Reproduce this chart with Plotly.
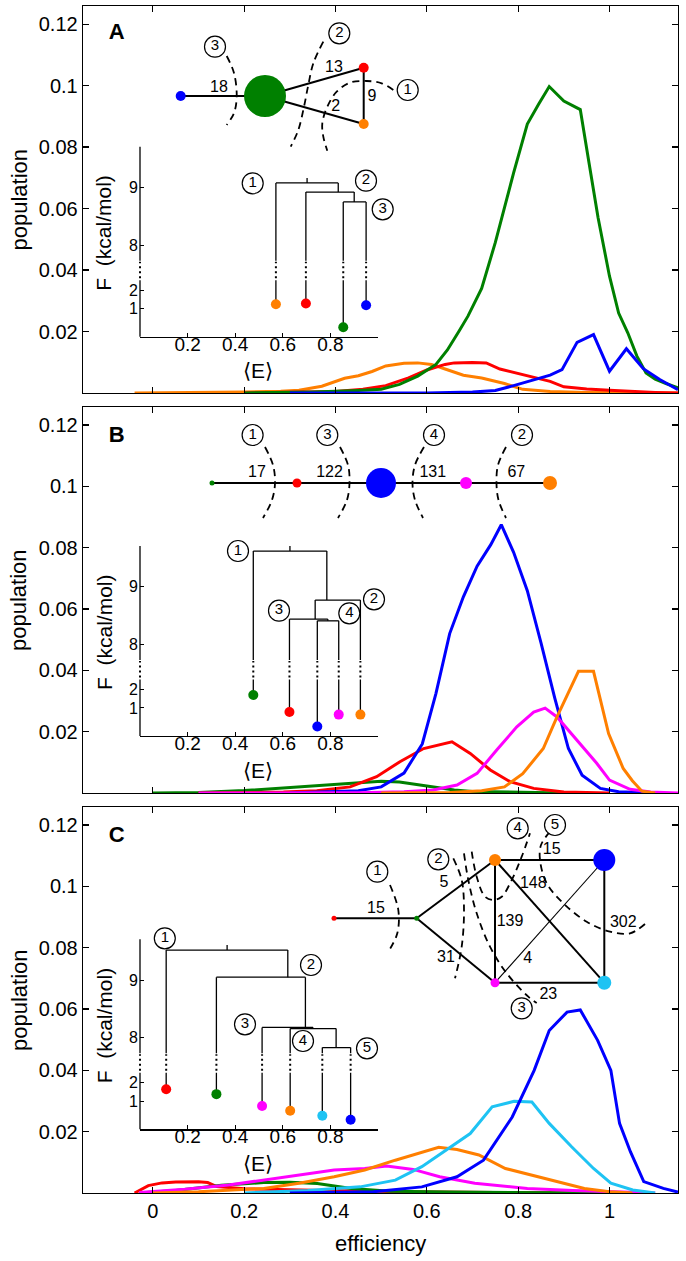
import plotly.graph_objects as go

# ===================== DATA =====================
GREEN = "#008000"; BLUE = "#0000ff"; RED = "#ff0000"
ORANGE = "#ff7f00"; MAGENTA = "#ff00ff"; CYAN = "#1ec3f3"

# ---- Panel A : population vs efficiency ----
A_orange_E = [-0.04, 0.1, 0.2, 0.28, 0.32, 0.37, 0.42, 0.45, 0.48, 0.51, 0.55, 0.58, 0.61, 0.64, 0.68, 0.72, 0.77, 0.81, 0.87, 0.95, 1.05, 1.15]
A_orange_P = [0, 0.0001, 0.0003, 0.0006, 0.0009, 0.0022, 0.0048, 0.0056, 0.007, 0.0088, 0.0097, 0.0098, 0.0093, 0.0078, 0.0058, 0.0049, 0.0031, 0.0012, 0.0005, 0.0002, 0.0001, 0]
A_red_E = [0.2, 0.4, 0.46, 0.51, 0.56, 0.6, 0.64, 0.66, 0.7, 0.73, 0.76, 0.8, 0.84, 0.87, 0.9, 0.95, 1.0, 1.05, 1.1, 1.15]
A_red_P = [0, 0.0005, 0.0012, 0.0024, 0.0049, 0.0075, 0.0093, 0.0098, 0.0099, 0.0098, 0.0078, 0.0063, 0.005, 0.0038, 0.002, 0.0013, 0.0009, 0.0005, 0.0002, 0]
A_green_E = [0.2, 0.35, 0.45, 0.5, 0.54, 0.58, 0.62, 0.645, 0.67, 0.69, 0.72, 0.75, 0.79, 0.82, 0.845, 0.868, 0.9, 0.936, 0.955, 0.975, 1.0, 1.02, 1.04, 1.06, 1.08, 1.1, 1.125, 1.15]
A_green_P = [0.0, 0.0003, 0.0008, 0.0012, 0.0028, 0.0055, 0.0093, 0.014, 0.02, 0.025, 0.034, 0.049, 0.0716, 0.0875, 0.094, 0.0997, 0.095, 0.0922, 0.075, 0.057, 0.038, 0.026, 0.0196, 0.012, 0.0065, 0.0045, 0.003, 0.0017]
A_blue_E = [0.3, 0.6, 0.7, 0.75, 0.79, 0.84, 0.87, 0.896, 0.929, 0.965, 1.0, 1.037, 1.074, 1.11, 1.15]
A_blue_P = [0, 0, 0.0003, 0.0008, 0.0024, 0.0044, 0.0058, 0.0076, 0.0165, 0.019, 0.0071, 0.0144, 0.0079, 0.0044, 0.0011]

# ---- Panel B ----
B_green_E = [0.0, 0.1, 0.2, 0.3, 0.38, 0.45, 0.5, 0.54, 0.58, 0.62, 0.66, 0.7, 0.8, 0.9]
B_green_P = [0, 0.0002, 0.0008, 0.0018, 0.0028, 0.0035, 0.0038, 0.0036, 0.0028, 0.0018, 0.001, 0.0005, 0.0002, 0]
B_red_E = [0.1, 0.286, 0.359, 0.432, 0.49, 0.541, 0.593, 0.62, 0.655, 0.695, 0.739, 0.782, 0.834, 0.9, 1.0]
B_red_P = [0, 0.0003, 0.0007, 0.002, 0.0053, 0.0102, 0.0145, 0.0155, 0.0167, 0.0129, 0.0075, 0.0037, 0.0015, 0.0003, 0]
B_blue_E = [0.3, 0.45, 0.5, 0.55, 0.59, 0.62, 0.65, 0.68, 0.71, 0.74, 0.763, 0.79, 0.82, 0.85, 0.88, 0.91, 0.94, 0.98, 1.02, 1.1]
B_blue_P = [0, 0.0007, 0.002, 0.0065, 0.016, 0.0325, 0.052, 0.064, 0.074, 0.081, 0.0875, 0.0785, 0.066, 0.049, 0.031, 0.0145, 0.0058, 0.0015, 0.0004, 0]
B_magenta_E = [0.1, 0.45, 0.55, 0.614, 0.666, 0.71, 0.753, 0.797, 0.834, 0.859, 0.885, 0.929, 0.972, 1.0, 1.045, 1.09, 1.15]
B_magenta_P = [0, 0.0001, 0.0004, 0.001, 0.0026, 0.0064, 0.014, 0.0216, 0.0264, 0.0277, 0.0248, 0.0172, 0.0097, 0.0042, 0.0012, 0.0003, 0]
B_orange_E = [0.5, 0.65, 0.72, 0.77, 0.81, 0.855, 0.885, 0.91, 0.932, 0.965, 0.998, 1.03, 1.05, 1.071, 1.1]
B_orange_P = [0, 0.0002, 0.0007, 0.002, 0.0063, 0.0145, 0.0248, 0.033, 0.0397, 0.0397, 0.0194, 0.008, 0.004, 0.0006, 0]

# ---- Panel C ----
C_red_E = [-0.04, -0.03, -0.01, 0.02, 0.05, 0.1, 0.12, 0.14, 0.2, 0.35, 0.55, 0.75, 0.95]
C_red_P = [0, 0.0008, 0.0024, 0.0033, 0.0036, 0.0037, 0.0034, 0.0021, 0.0014, 0.0009, 0.0004, 0.0002, 0]
C_green_E = [-0.03, 0.05, 0.15, 0.243, 0.3, 0.36, 0.435, 0.52, 0.65, 0.8, 1.0]
C_green_P = [0, 0.0008, 0.0025, 0.0034, 0.0035, 0.0031, 0.0015, 0.0006, 0.0003, 0.0001, 0]
C_magenta_E = [-0.03, 0.07, 0.166, 0.243, 0.32, 0.397, 0.464, 0.512, 0.57, 0.628, 0.705, 0.82, 0.92, 1.04, 1.1]
C_magenta_P = [0.0002, 0.0012, 0.0026, 0.0042, 0.0059, 0.0075, 0.008, 0.0088, 0.0077, 0.0053, 0.0032, 0.0015, 0.0008, 0.0002, 0]
C_orange_E = [0.0, 0.1, 0.243, 0.32, 0.397, 0.464, 0.531, 0.589, 0.626, 0.666, 0.714, 0.772, 0.83, 0.888, 0.945, 1.0, 1.05]
C_orange_P = [0, 0.0004, 0.0015, 0.0032, 0.0053, 0.0075, 0.0107, 0.0134, 0.0149, 0.0142, 0.0124, 0.008, 0.0059, 0.0037, 0.0015, 0.0004, 0]
C_cyan_E = [0.2, 0.339, 0.454, 0.531, 0.589, 0.637, 0.695, 0.743, 0.791, 0.83, 0.868, 0.917, 0.965, 1.003, 1.051, 1.1]
C_cyan_P = [0, 0.0008, 0.002, 0.0042, 0.0086, 0.0134, 0.0194, 0.0281, 0.0299, 0.0297, 0.0227, 0.0151, 0.008, 0.0032, 0.001, 0]
C_blue_E = [0.3, 0.483, 0.589, 0.666, 0.724, 0.787, 0.835, 0.868, 0.907, 0.936, 0.974, 1.003, 1.022, 1.046, 1.075, 1.118, 1.15]
C_blue_P = [0, 0.0004, 0.002, 0.0053, 0.0107, 0.0248, 0.04, 0.053, 0.059, 0.0597, 0.0498, 0.04, 0.0227, 0.0134, 0.0037, 0.0015, 0.0003]

# ---- Axis ticks ----
X_TICKS = [0, 0.2, 0.4, 0.6, 0.8, 1.0]
X_TICKTEXT = ["0", "0.2", "0.4", "0.6", "0.8", "1"]
Y_TICKS = [0.02, 0.04, 0.06, 0.08, 0.10, 0.12]
Y_TICKTEXT = ["0.02", "0.04", "0.06", "0.08", "0.1", "0.12"]
INSET_X_TICKS = [0.2, 0.4, 0.6, 0.8]
INSET_X_TICKTEXT = ["0.2", "0.4", "0.6", "0.8"]
INSET_F_TICKS = [1, 2, 8, 9]

# ---- Dendrograms (leaf <E>, leaf F, merge heights) ----
A_leaf_E = [0.571, 0.697, 0.854, 0.95]
A_leaf_F = [1.23, 1.27, 0.0, 1.18]
A_leaf_col = [ORANGE, RED, GREEN, BLUE]
A_leaf_parent = [0, 1, 2, 2]
A_merge_F = [9.08, 8.92, 8.75]
A_merge_lo = [0.571, 0.697, 0.854]
A_merge_hi = [0.833, 0.90, 0.95]
A_merge_riser = [0.702, 0.833, 0.90]
A_merge_parent = [None, 0, 1]

B_leaf_E = [0.476, 0.628, 0.745, 0.835, 0.926]
B_leaf_F = [1.69, 0.78, 0.0, 0.64, 0.64]
B_leaf_col = [GREEN, RED, BLUE, MAGENTA, ORANGE]
B_leaf_parent = [0, 2, 3, 3, 1]
B_merge_F = [9.62, 8.77, 8.44, 8.41]
B_merge_lo = [0.476, 0.736, 0.628, 0.745]
B_merge_hi = [0.785, 0.926, 0.789, 0.835]
B_merge_riser = [0.63, 0.785, 0.736, 0.789]
B_merge_parent = [None, 0, 1, 2]

C_leaf_E = [0.11, 0.321, 0.513, 0.631, 0.766, 0.885]
C_leaf_F = [1.64, 1.38, 0.74, 0.49, 0.22, 0.0]
C_leaf_col = [RED, GREEN, MAGENTA, ORANGE, CYAN, BLUE]
C_leaf_parent = [0, 1, 2, 3, 4, 4]
C_merge_F = [9.52, 9.05, 8.18, 8.16, 7.83]
C_merge_lo = [0.11, 0.321, 0.513, 0.631, 0.766]
C_merge_hi = [0.621, 0.695, 0.727, 0.824, 0.885]
C_merge_riser = [0.366, 0.621, 0.695, 0.727, 0.824]
C_merge_parent = [None, 0, 1, 2, 3]

# ---- Network edge weights (labels) ----
A_edge_labels = ["18", "13", "2", "9"]
B_edge_labels = ["17", "122", "131", "67"]
C_edge_labels = ["15", "5", "31", "139", "148", "15", "4", "23", "302"]

# ===================== LAYOUT GEOMETRY (pixels) =====================
FONT = "Liberation Sans, Arial, sans-serif"
L, R, T, BOT = 83, 678, 6, 1193
W, H = R - L, BOT - T
def pxx(p): return (p - L) / W
def pxy(p): return (BOT - p) / H

PANEL_PX = [(6, 393), (407, 793), (807, 1193)]
INSET_BOTTOM = [336.7, 736.0, 1129.3]
INSET_X_PX = (140, 378)
INSET_H = 190.0
BREAK_LO, BREAK_HI = 56.5, 76.0

def f2d(F):
    # broken free-energy axis: 0..2 lower segment, 8..9 upper segment
    return 9.5 + 18.6 * F if F < 5 else 91.5 + 57.7 * (F - 8.0)

fig = go.Figure()

# ---- main curves ----
panels_series = [
    [(A_orange_E, A_orange_P, ORANGE), (A_red_E, A_red_P, RED), (A_green_E, A_green_P, GREEN), (A_blue_E, A_blue_P, BLUE)],
    [(B_green_E, B_green_P, GREEN), (B_red_E, B_red_P, RED), (B_blue_E, B_blue_P, BLUE), (B_magenta_E, B_magenta_P, MAGENTA), (B_orange_E, B_orange_P, ORANGE)],
    [(C_red_E, C_red_P, RED), (C_green_E, C_green_P, GREEN), (C_magenta_E, C_magenta_P, MAGENTA), (C_orange_E, C_orange_P, ORANGE), (C_cyan_E, C_cyan_P, CYAN), (C_blue_E, C_blue_P, BLUE)],
]
for i, series in enumerate(panels_series):
    ax = "" if i == 0 else str(i + 1)
    for ex, pp, col in series:
        fig.add_trace(go.Scatter(x=ex, y=pp, mode="lines", line=dict(color=col, width=3),
                                 xaxis="x" + ax, yaxis="y" + ax, showlegend=False, hoverinfo="skip"))

# ---- dendrogram insets ----
dendros = [
    (A_leaf_E, A_leaf_F, A_leaf_col, A_leaf_parent, A_merge_F, A_merge_lo, A_merge_hi, A_merge_riser, A_merge_parent),
    (B_leaf_E, B_leaf_F, B_leaf_col, B_leaf_parent, B_merge_F, B_merge_lo, B_merge_hi, B_merge_riser, B_merge_parent),
    (C_leaf_E, C_leaf_F, C_leaf_col, C_leaf_parent, C_merge_F, C_merge_lo, C_merge_hi, C_merge_riser, C_merge_parent),
]

def add_vline(x, d0, d1, solid, dotted):
    lo, hi = min(d0, d1), max(d0, d1)
    if hi <= BREAK_LO or lo >= BREAK_HI:
        solid.append(((x, lo), (x, hi)))
        return
    if lo < BREAK_LO:
        solid.append(((x, lo), (x, BREAK_LO)))
    dotted.append(((x, max(lo, BREAK_LO) + 2), (x, min(hi, BREAK_HI) - 1)))
    if hi > BREAK_HI:
        solid.append(((x, BREAK_HI), (x, hi)))

def segs_to_xy(segs):
    xs, ys = [], []
    for (x0, y0), (x1, y1) in segs:
        xs += [x0, x1, None]; ys += [y0, y1, None]
    return xs, ys

for i, (lE, lF, lc, lp, mF, mlo, mhi, mr, mp) in enumerate(dendros):
    xa, ya = "x" + str(4 + i), "y" + str(4 + i)
    solid, dotted = [], []
    for k in range(len(mF)):
        dm = f2d(mF[k])
        solid.append(((mlo[k], dm), (mhi[k], dm)))
        if mp[k] is None:
            solid.append(((mr[k], dm), (mr[k], dm + 5)))
        else:
            solid.append(((mr[k], dm), (mr[k], f2d(mF[mp[k]]))))
    for j in range(len(lE)):
        add_vline(lE[j], f2d(lF[j]), f2d(mF[lp[j]]), solid, dotted)
    sx, sy = segs_to_xy(solid)
    fig.add_trace(go.Scatter(x=sx, y=sy, mode="lines", line=dict(color="black", width=1.3),
                             xaxis=xa, yaxis=ya, showlegend=False, hoverinfo="skip"))
    dx, dy = segs_to_xy(dotted)
    fig.add_trace(go.Scatter(x=dx, y=dy, mode="lines", line=dict(color="black", width=2, dash="2px,3px"),
                             xaxis=xa, yaxis=ya, showlegend=False, hoverinfo="skip"))
    fig.add_trace(go.Scatter(x=lE, y=[f2d(f) for f in lF], mode="markers",
                             marker=dict(color=lc, size=10, opacity=1, line=dict(width=0)), cliponaxis=False,
                             xaxis=xa, yaxis=ya, showlegend=False, hoverinfo="skip"))

# ---- overlay (pixel coordinates) : networks, labels, broken axes ----
OV = dict(xaxis="x7", yaxis="y7", showlegend=False, hoverinfo="skip", cliponaxis=False)

def ov_lines(segs, width=2.0, dash=None, shape="linear"):
    xs, ys = [], []
    for pts in segs:
        xs += [p[0] for p in pts] + [None]
        ys += [p[1] for p in pts] + [None]
    fig.add_trace(go.Scatter(x=xs, y=ys, mode="lines",
                             line=dict(color="black", width=width, dash=dash, shape=shape), **OV))

# inset broken y-axes
for b in INSET_BOTTOM:
    xa = INSET_X_PX[0]
    ov_lines([[(xa, b), (xa, b - BREAK_LO)], [(xa, b - BREAK_HI), (xa, b - INSET_H)]], width=1.3)
    ov_lines([[(xa, b - BREAK_LO - 2), (xa, b - BREAK_HI + 1)]], width=2, dash="2px,3px")

NET = {
    "A": dict(
        nodes=[(180.7, 96, BLUE, 10), (265, 96, GREEN, 42), (363.7, 67.7, RED, 10), (363.7, 124, ORANGE, 10)],
        edges=[(0, 1), (1, 2), (1, 3), (2, 3)], thin=[],
        arcs=[[(226.7, 56), (234, 73), (236.7, 96.7), (234, 113), (226.7, 125)],
              [(323.3, 41.7), (313.3, 63.3), (308.3, 85), (304, 106.7), (298.3, 130), (290.7, 146.7)],
              [(393.3, 90), (381.7, 83.3), (366.7, 81), (350, 82.7), (336.7, 91.7), (327.3, 106.7), (322.3, 123.3), (323.3, 136.7), (327.3, 150.7)]],
        elabels=[(219, 88.3), (334, 67.7), (335.7, 107.3), (372, 96.7)],
        circ=[("3", 215, 46.7), ("2", 339.3, 33.3), ("1", 407.7, 90)],
    ),
    "B": dict(
        nodes=[(212, 483, GREEN, 5), (297, 483, RED, 9), (381, 483, BLUE, 30), (466, 483, MAGENTA, 12), (550, 483, ORANGE, 14)],
        edges=[(0, 1), (1, 2), (2, 3), (3, 4)], thin=[],
        arcs=[[(265, 447), (273, 465), (275, 483), (272, 500), (263, 518)],
              [(340, 447), (348, 465), (349.5, 483), (347, 500), (338, 518)],
              [(424, 447), (415, 465), (412.5, 483), (415, 500), (423, 518)],
              [(506, 447), (498, 465), (496.5, 483), (498.5, 500), (506, 518)]],
        elabels=[(257, 472.7), (329.5, 472.7), (432.8, 472.7), (516.3, 472.7)],
        circ=[("1", 252.6, 435), ("3", 327.3, 435), ("4", 434, 435), ("2", 522, 435)],
    ),
    "C": dict(
        nodes=[(334, 918.3, RED, 5), (416.7, 918.3, GREEN, 5), (495, 860, ORANGE, 12), (604.3, 860, BLUE, 22),
               (495, 982.7, MAGENTA, 9), (604.3, 982.7, CYAN, 14)],
        edges=[(0, 1), (1, 2), (1, 4), (2, 3), (2, 4), (2, 5), (4, 5), (3, 5)], thin=[(4, 3)],
        arcs=[[(390, 885), (398.3, 910), (397.3, 933.3), (388.3, 951.7)],
              [(453.3, 858.3), (461.7, 880), (464, 910), (461.7, 946.7), (455, 978.3)],
              [(464, 853.3), (468.3, 880), (476.7, 913.3), (490, 946.7), (506.7, 973.3), (528.3, 996.7), (536.7, 1003)],
              [(471.7, 851.7), (476.7, 876.7), (485, 896.7), (493.3, 900), (501.7, 896.7), (511.7, 880), (521.7, 856.7), (530, 833.3)],
              [(550, 831.7), (541, 845), (540, 860), (546.7, 883.3), (563.3, 903.3), (586.7, 921.7), (610, 931.7), (630, 933.3), (645, 924)]],
        elabels=[(376, 909.3), (444, 882.7), (446, 958.3), (510, 921.7), (533.3, 884.3), (551.7, 850), (527.7, 959.3), (548.3, 995), (623.3, 923.3)],
        circ=[("1", 377.3, 871.7), ("2", 438.3, 859.3), ("4", 517.7, 828.3), ("5", 555, 825), ("3", 521.7, 1008.3)],
    ),
}
EDGE_TEXT = {"A": A_edge_labels, "B": B_edge_labels, "C": C_edge_labels}

DENDRO_CIRC = [
    [("1", 252.7, 183.3), ("2", 366, 180.7), ("3", 382.7, 209.3)],
    [("1", 238, 551), ("2", 374, 599.3), ("3", 279, 610.7), ("4", 349.3, 613.3)],
    [("1", 164.8, 938.3), ("2", 311, 965), ("3", 245, 1024.3), ("4", 303, 1041), ("5", 367, 1048.3)],
]

def circled(items):
    fig.add_trace(go.Scatter(x=[it[1] for it in items], y=[it[2] for it in items], mode="markers+text",
                             text=[it[0] for it in items], textposition="middle center",
                             textfont=dict(family=FONT, size=15, color="black"),
                             marker=dict(symbol="circle", size=21, color="white", opacity=1,
                                         line=dict(color="black", width=1.2)),
                             **OV))

for key, net in NET.items():
    nd = net["nodes"]
    ov_lines([[(nd[a][0], nd[a][1]), (nd[b][0], nd[b][1])] for a, b in net["edges"]], width=2.0)
    if net["thin"]:
        ov_lines([[(nd[a][0], nd[a][1]), (nd[b][0], nd[b][1])] for a, b in net["thin"]], width=1.1)
    ov_lines(net["arcs"], width=1.8, dash="7px,5px", shape="spline")
    fig.add_trace(go.Scatter(x=[n[0] for n in nd], y=[n[1] for n in nd], mode="markers",
                             marker=dict(color=[n[2] for n in nd], size=[n[3] for n in nd], opacity=1,
                                         line=dict(width=0)), **OV))
    fig.add_trace(go.Scatter(x=[p[0] for p in net["elabels"]], y=[p[1] for p in net["elabels"]], mode="text",
                             text=EDGE_TEXT[key], textposition="middle center",
                             textfont=dict(family=FONT, size=16, color="black"), **OV))
    circled(net["circ"])

for items in DENDRO_CIRC:
    circled(items)

# panel letters
fig.add_trace(go.Scatter(x=[116.7, 116.7, 116.7], y=[33, 436.7, 836.5], mode="text", text=["<b>A</b>", "<b>B</b>", "<b>C</b>"],
                         textposition="middle center", textfont=dict(family=FONT, size=22, color="black"), **OV))

# ===================== AXES =====================
layout = dict(
    width=686, height=1261, paper_bgcolor="white", plot_bgcolor="rgba(0,0,0,0)",
    margin=dict(l=L, r=686 - R, t=T, b=1261 - BOT, autoexpand=False), showlegend=False,
    font=dict(family=FONT, size=18, color="black"),
)
for i, (top, bot) in enumerate(PANEL_PX):
    sfx = "" if i == 0 else str(i + 1)
    layout["xaxis" + sfx] = dict(domain=[0, 1], range=[-0.153, 1.15], anchor="y" + sfx,
                                 tickvals=X_TICKS, ticktext=X_TICKTEXT, showticklabels=(i == 2),
                                 ticks="inside", ticklen=6, tickwidth=1.2, tickcolor="black",
                                 showline=True, linecolor="black", linewidth=1.3, mirror="allticks",
                                 showgrid=False, zeroline=False, tickfont=dict(size=20), automargin=False)
    layout["yaxis" + sfx] = dict(domain=[pxy(bot), pxy(top)], range=[0, 0.1259], anchor="x" + sfx,
                                 tickvals=Y_TICKS, ticktext=Y_TICKTEXT,
                                 ticks="inside", ticklen=6, tickwidth=1.2, tickcolor="black",
                                 showline=True, linecolor="black", linewidth=1.3, mirror="allticks",
                                 showgrid=False, zeroline=False, tickfont=dict(size=20), automargin=False)
for i, b in enumerate(INSET_BOTTOM):
    n = str(4 + i)
    layout["xaxis" + n] = dict(domain=[pxx(INSET_X_PX[0]), pxx(INSET_X_PX[1])], range=[0, 1.0], anchor="y" + n,
                               tickvals=INSET_X_TICKS, ticktext=INSET_X_TICKTEXT, ticks="inside", ticklen=4,
                               tickcolor="black", showline=True, linecolor="black", linewidth=1.3,
                               showgrid=False, zeroline=False, tickfont=dict(size=19), automargin=False,
                               ticklabelstandoff=-10)
    layout["yaxis" + n] = dict(domain=[pxy(b), pxy(b - INSET_H)], range=[0, INSET_H], anchor="x" + n,
                               tickvals=[f2d(v) for v in INSET_F_TICKS], ticktext=[str(v) for v in INSET_F_TICKS],
                               ticks="inside", ticklen=4, tickcolor="black", showline=False,
                               showgrid=False, zeroline=False, tickfont=dict(size=16), automargin=False,
                               ticklabelstandoff=1)
layout["xaxis7"] = dict(domain=[0, 1], range=[L, R], anchor="y7", visible=False, fixedrange=True, automargin=False)
layout["yaxis7"] = dict(domain=[0, 1], range=[BOT, T], anchor="x7", visible=False, fixedrange=True, automargin=False)

ann = []
for top, bot in PANEL_PX:
    ann.append(dict(x=pxx(19), y=pxy((top + bot) / 2), xref="paper", yref="paper", text="population",
                    textangle=-90, showarrow=False, font=dict(size=22), xanchor="center", yanchor="middle"))
ann.append(dict(x=pxx(380), y=pxy(1243), xref="paper", yref="paper", text="efficiency",
                showarrow=False, font=dict(size=22), xanchor="center", yanchor="middle"))
for b in INSET_BOTTOM:
    ann.append(dict(x=pxx(258), y=pxy(b + 34), xref="paper", yref="paper", text="⟨E⟩",
                    showarrow=False, font=dict(size=21), xanchor="center", yanchor="middle"))
    ann.append(dict(x=pxx(104), y=pxy(b - 104), xref="paper", yref="paper", text="F  (kcal/mol)",
                    textangle=-90, showarrow=False, font=dict(size=21), xanchor="center", yanchor="middle",
                    borderpad=0))
layout["annotations"] = ann

fig.update_layout(**layout)
# remove the browser's default 8px page margin so the figure sits at the window origin
fig.write_html("out.html", post_script="document.body.style.margin='0px';",
               config={"displayModeBar": False, "staticPlot": True})
